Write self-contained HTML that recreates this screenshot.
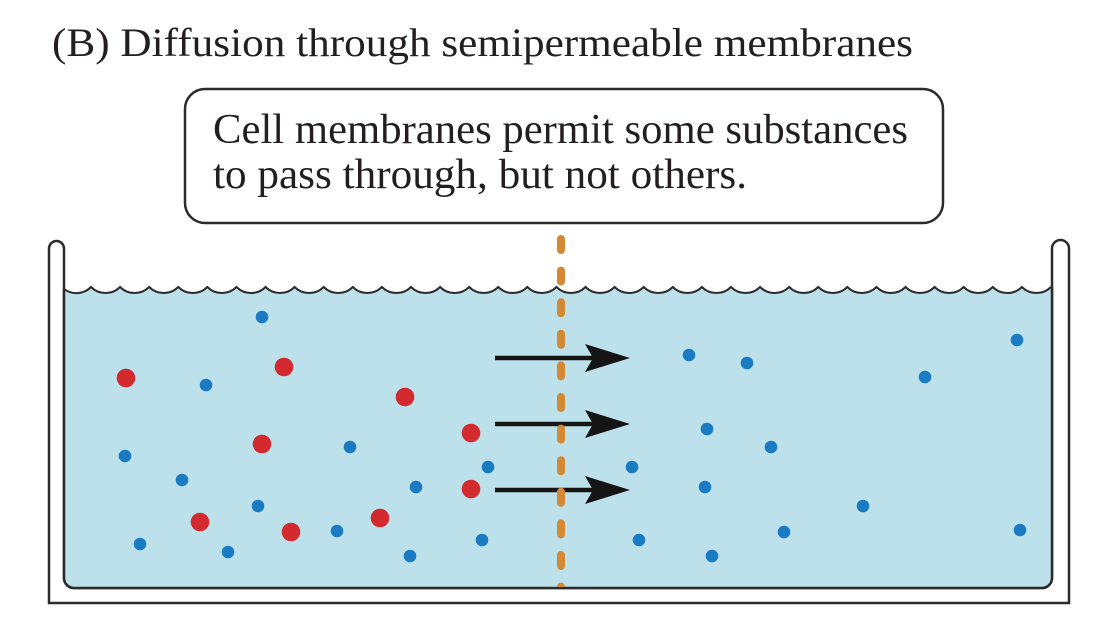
<!DOCTYPE html>
<html>
<head>
<meta charset="utf-8">
<style>
  html, body { margin: 0; padding: 0; background: #ffffff; }
  body { width: 1116px; height: 628px; overflow: hidden; }
  svg { display: block; }
  .serif { font-family: "Liberation Serif", "DejaVu Serif", serif; fill: #231f20; }
</style>
</head>
<body>
<svg width="1116" height="628" viewBox="0 0 1116 628" xmlns="http://www.w3.org/2000/svg">
  <defs>
    <clipPath id="tankclip">
      <rect x="0" y="0" width="1116" height="587"/>
    </clipPath>
  </defs>

  <!-- Title -->
  <text class="serif" x="52" y="56" font-size="40" textLength="861" lengthAdjust="spacingAndGlyphs">(B)  Diffusion through semipermeable membranes</text>

  <!-- Callout box -->
  <rect x="185" y="89" width="758" height="134" rx="20" ry="20" fill="#ffffff" stroke="#2b2b2b" stroke-width="2.5"/>
  <text class="serif" x="213" y="143" font-size="42" textLength="695" lengthAdjust="spacingAndGlyphs">Cell membranes permit some substances</text>
  <text class="serif" x="213" y="188" font-size="42" textLength="534" lengthAdjust="spacingAndGlyphs">to pass through, but not others.</text>

  <!-- Tank walls -->
  <path d="M49,603 L49,248.5 A7.5,7.5 0 0 1 64,248.5 L64,578 A10,10 0 0 0 74,588 L1042,588 A10,10 0 0 0 1052,578 L1052,248.5 A8.5,8.5 0 0 1 1069,248.5 L1069,603 Z"
        fill="#ffffff" stroke="#2b2b2b" stroke-width="2.5" stroke-linejoin="miter"/>

  <!-- Water -->
  <path d="M64,289 A20.5,20.5 0 0 0 91,287
           a20.5 20.5 0 0 0 29.09 0 a20.5 20.5 0 0 0 29.09 0 a20.5 20.5 0 0 0 29.09 0 a20.5 20.5 0 0 0 29.09 0
           a20.5 20.5 0 0 0 29.09 0 a20.5 20.5 0 0 0 29.09 0 a20.5 20.5 0 0 0 29.09 0 a20.5 20.5 0 0 0 29.09 0
           a20.5 20.5 0 0 0 29.09 0 a20.5 20.5 0 0 0 29.09 0 a20.5 20.5 0 0 0 29.09 0 a20.5 20.5 0 0 0 29.09 0
           a20.5 20.5 0 0 0 29.09 0 a20.5 20.5 0 0 0 29.09 0 a20.5 20.5 0 0 0 29.09 0 a20.5 20.5 0 0 0 29.09 0
           a20.5 20.5 0 0 0 29.09 0 a20.5 20.5 0 0 0 29.09 0 a20.5 20.5 0 0 0 29.09 0 a20.5 20.5 0 0 0 29.09 0
           a20.5 20.5 0 0 0 29.09 0 a20.5 20.5 0 0 0 29.09 0 a20.5 20.5 0 0 0 29.09 0 a20.5 20.5 0 0 0 29.09 0
           a20.5 20.5 0 0 0 29.09 0 a20.5 20.5 0 0 0 29.09 0 a20.5 20.5 0 0 0 29.09 0 a20.5 20.5 0 0 0 29.09 0
           a20.5 20.5 0 0 0 29.09 0 a20.5 20.5 0 0 0 29.09 0 a20.5 20.5 0 0 0 29.09 0 a20.5 20.5 0 0 0 29.09 0
           a20.5 20.5 0 0 0 29.09 0
           L1052,287 L1052,578 A10,10 0 0 1 1042,588 L74,588 A10,10 0 0 1 64,578 Z"
        fill="#bce1ea" stroke="none"/>
  <!-- Wave surface line -->
  <path d="M64,289 A20.5,20.5 0 0 0 91,287
           a20.5 20.5 0 0 0 29.09 0 a20.5 20.5 0 0 0 29.09 0 a20.5 20.5 0 0 0 29.09 0 a20.5 20.5 0 0 0 29.09 0
           a20.5 20.5 0 0 0 29.09 0 a20.5 20.5 0 0 0 29.09 0 a20.5 20.5 0 0 0 29.09 0 a20.5 20.5 0 0 0 29.09 0
           a20.5 20.5 0 0 0 29.09 0 a20.5 20.5 0 0 0 29.09 0 a20.5 20.5 0 0 0 29.09 0 a20.5 20.5 0 0 0 29.09 0
           a20.5 20.5 0 0 0 29.09 0 a20.5 20.5 0 0 0 29.09 0 a20.5 20.5 0 0 0 29.09 0 a20.5 20.5 0 0 0 29.09 0
           a20.5 20.5 0 0 0 29.09 0 a20.5 20.5 0 0 0 29.09 0 a20.5 20.5 0 0 0 29.09 0 a20.5 20.5 0 0 0 29.09 0
           a20.5 20.5 0 0 0 29.09 0 a20.5 20.5 0 0 0 29.09 0 a20.5 20.5 0 0 0 29.09 0 a20.5 20.5 0 0 0 29.09 0
           a20.5 20.5 0 0 0 29.09 0 a20.5 20.5 0 0 0 29.09 0 a20.5 20.5 0 0 0 29.09 0 a20.5 20.5 0 0 0 29.09 0
           a20.5 20.5 0 0 0 29.09 0 a20.5 20.5 0 0 0 29.09 0 a20.5 20.5 0 0 0 29.09 0 a20.5 20.5 0 0 0 29.09 0
           a20.5 20.5 0 0 0 29.09 0"
        fill="none" stroke="#2b2b2b" stroke-width="2"/>
  <!-- Inner wall line redraw (on top of water) -->
  <path d="M64,289 L64,578 A10,10 0 0 0 74,588 L1042,588 A10,10 0 0 0 1052,578 L1052,287"
        fill="none" stroke="#2b2b2b" stroke-width="2.5"/>

  <!-- Blue (small) particles -->
  <g fill="#1b7bc2">
    <circle cx="262" cy="317" r="6.3"/>
    <circle cx="206" cy="385" r="6.3"/>
    <circle cx="125" cy="456" r="6.3"/>
    <circle cx="182" cy="480" r="6.3"/>
    <circle cx="350" cy="447" r="6.3"/>
    <circle cx="258" cy="506" r="6.3"/>
    <circle cx="140" cy="544" r="6.3"/>
    <circle cx="228" cy="552" r="6.3"/>
    <circle cx="337" cy="531" r="6.3"/>
    <circle cx="416" cy="487" r="6.3"/>
    <circle cx="488" cy="467" r="6.3"/>
    <circle cx="410" cy="556" r="6.3"/>
    <circle cx="482" cy="540" r="6.3"/>

    <circle cx="689" cy="355" r="6.3"/>
    <circle cx="747" cy="363" r="6.3"/>
    <circle cx="925" cy="377" r="6.3"/>
    <circle cx="1017" cy="340" r="6.3"/>
    <circle cx="707" cy="429" r="6.3"/>
    <circle cx="771" cy="447" r="6.3"/>
    <circle cx="632" cy="467" r="6.3"/>
    <circle cx="705" cy="487" r="6.3"/>
    <circle cx="863" cy="506" r="6.3"/>
    <circle cx="639" cy="540" r="6.3"/>
    <circle cx="712" cy="556" r="6.3"/>
    <circle cx="784" cy="532" r="6.3"/>
    <circle cx="1020" cy="530" r="6.3"/>
  </g>

  <!-- Red (large) particles -->
  <g fill="#d32a2f">
    <circle cx="126" cy="378" r="9.3"/>
    <circle cx="284" cy="367" r="9.3"/>
    <circle cx="405" cy="397" r="9.3"/>
    <circle cx="262" cy="444" r="9.3"/>
    <circle cx="471" cy="433" r="9.3"/>
    <circle cx="471" cy="489" r="9.3"/>
    <circle cx="200" cy="522" r="9.3"/>
    <circle cx="291" cy="532" r="9.3"/>
    <circle cx="380" cy="518" r="9.3"/>
  </g>

  <!-- Arrows -->
  <g stroke="#151515" stroke-width="4.5" fill="none">
    <line x1="495" y1="358" x2="600" y2="358"/>
    <line x1="495" y1="424" x2="600" y2="424"/>
    <line x1="495" y1="490" x2="600" y2="490"/>
  </g>
  <g fill="#151515">
    <polygon points="585,344 630,358 585,372 593,358"/>
    <polygon points="585,410 630,424 585,438 593,424"/>
    <polygon points="585,476 630,490 585,504 593,490"/>
  </g>

  <!-- Semipermeable membrane (dashed) -->
  <g clip-path="url(#tankclip)">
    <line x1="561" y1="239" x2="561" y2="600" stroke="#d48a35" stroke-width="8"
          stroke-linecap="round" stroke-dasharray="11 20.6"/>
  </g>
</svg>
</body>
</html>
